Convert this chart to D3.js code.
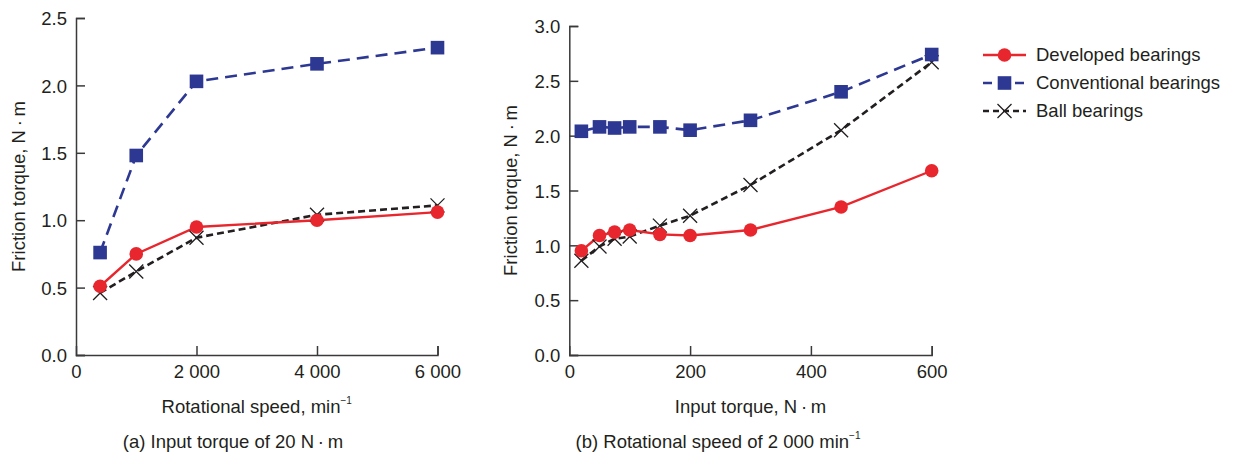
<!DOCTYPE html>
<html><head><meta charset="utf-8">
<script src="https://cdn.jsdelivr.net/npm/d3@7"></script>
<style>
html,body{margin:0;padding:0;background:#fff;}
text{font-family:"Liberation Sans",Arial,Helvetica,sans-serif;fill:#231f20;}
</style></head>
<body><svg id="c" width="1233" height="458"></svg>
<script>
// ---- data ----
const speedA = [400, 1000, 2000, 4000, 6000];
const developedA = [0.51, 0.75, 0.95, 1.00, 1.06];
const conventionalA = [0.76, 1.48, 2.03, 2.16, 2.28];
const ballA = [0.46, 0.62, 0.87, 1.04, 1.11];

const torqueB = [20, 50, 75, 100, 150, 200, 300, 450, 600];
const developedB = [0.95, 1.09, 1.12, 1.14, 1.10, 1.09, 1.14, 1.35, 1.68];
const conventionalB = [2.04, 2.08, 2.07, 2.08, 2.08, 2.05, 2.14, 2.40, 2.74];
const ballB = [0.86, 0.99, 1.06, 1.08, 1.18, 1.27, 1.55, 2.05, 2.67];

const xTicksA = [0, 2000, 4000, 6000];
const xTickLabelsA = ["0", "2 000", "4 000", "6 000"];
const yTicksA = [0, 0.5, 1.0, 1.5, 2.0, 2.5];
const xTicksB = [0, 200, 400, 600];
const yTicksB = [0, 0.5, 1.0, 1.5, 2.0, 2.5, 3.0];
const seriesNames = ["Developed bearings", "Conventional bearings", "Ball bearings"];

// ---- styles ----
const RED = "#e8262d", BLUE = "#2d3892", BLACK = "#231f20", AX = "#3a3a3a";
const FS = 18.5;
const NM = "N\u2009\u00b7\u2009m";
const svg = d3.select("#c");

function marker(g, type, x, y) {
  if (type === 0) g.append("circle").attr("cx", x).attr("cy", y).attr("r", 6.8).attr("fill", RED);
  else if (type === 1) g.append("rect").attr("x", x - 6.8).attr("y", y - 6.8).attr("width", 13.6).attr("height", 13.6).attr("fill", BLUE);
  else {
    const s = 7;
    g.append("path").attr("d", `M${x-s},${y-s}L${x+s},${y+s}M${x-s},${y+s}L${x+s},${y-s}`)
      .attr("stroke", BLACK).attr("stroke-width", 1.3).attr("fill", "none");
  }
}
const lineStyles = [
  {color: RED, dash: null, w: 2.4},
  {color: BLUE, dash: "12,7", w: 2.6},
  {color: BLACK, dash: "7,4", w: 2.6}
];

function panel(opt) {
  const x = d3.scaleLinear().domain(opt.xDomain).range([opt.x0, opt.x1]);
  const y = d3.scaleLinear().domain(opt.yDomain).range([opt.y0, opt.y1]);
  const g = svg.append("g");

  // axes
  const yAxis = d3.axisLeft(y).tickValues(opt.yTicks).tickSize(-9).tickPadding(18).tickFormat(d3.format(".1f"));
  const ga = g.append("g").attr("transform", `translate(${opt.x0},0)`).call(yAxis);
  const xAxis = d3.axisBottom(x).tickValues(opt.xTicks).tickSize(-9).tickPadding(18).tickFormat((d, i) => opt.xLabels[i]);
  const gb = g.append("g").attr("transform", `translate(0,${opt.y0})`).call(xAxis);
  [ga, gb].forEach(a => {
    a.select(".domain").attr("stroke", AX).attr("stroke-width", 1.5);
    a.selectAll(".tick line").attr("stroke", AX).attr("stroke-width", 1.5);
    a.selectAll(".tick text").attr("font-size", FS).attr("fill", "#231f20").attr("font-family", "Liberation Sans, Arial, sans-serif");
  });
  ga.selectAll(".tick text").attr("x", -9).attr("dy", "0.36em");
  gb.selectAll(".tick text").attr("y", 10).attr("dy", "0.71em");
  gb.selectAll(".tick").filter(d => d === 0).select("line").remove();

  // series
  const sets = opt.series;
  const order = [2, 1, 0];
  order.forEach(si => {
    const st = lineStyles[si];
    const pts = opt.xs.map((v, i) => [x(v), y(sets[si][i])]);
    g.append("path").attr("d", d3.line()(pts)).attr("fill", "none")
      .attr("stroke", st.color).attr("stroke-width", st.w)
      .attr("stroke-dasharray", st.dash);
  });
  order.forEach(si => {
    opt.xs.forEach((v, i) => marker(g, si, x(v), y(sets[si][i])));
  });

  // y title
  g.append("text").attr("transform", `translate(${opt.yTitleX},${(opt.y0 + opt.y1) / 2}) rotate(-90)`)
    .attr("text-anchor", "middle").attr("dy", "0.35em").attr("font-size", FS).text("Friction torque, " + NM);
  // x title
  const xt = g.append("text").attr("x", (opt.x0 + opt.x1) / 2).attr("y", 413).attr("text-anchor", "middle").attr("font-size", FS);
  xt.append("tspan").text(opt.xTitle);
  if (opt.xSup) xt.append("tspan").attr("font-size", 10).attr("dy", -9).text(opt.xSup);
  // caption
  const ct = g.append("text").attr("x", opt.capX).attr("y", 448).attr("text-anchor", "middle").attr("font-size", FS);
  ct.append("tspan").text(opt.caption);
  if (opt.capSup) ct.append("tspan").attr("font-size", 10).attr("dy", -9).text(opt.capSup);
}

panel({
  xDomain: [0, 6000], yDomain: [0, 2.5], x0: 76, x1: 437.5, y0: 355, y1: 18,
  xTicks: xTicksA, xLabels: xTickLabelsA, yTicks: yTicksA,
  xs: speedA, series: [developedA, conventionalA, ballA],
  yTitleX: 19, xTitle: "Rotational speed, min", xSup: "\u22121",
  caption: "(a) Input torque of 20 " + NM, capX: 233
});
panel({
  xDomain: [0, 600], yDomain: [0, 3.0], x0: 569.3, x1: 931.7, y0: 355, y1: 26,
  xTicks: xTicksB, xLabels: xTicksB.map(String), yTicks: yTicksB,
  xs: torqueB, series: [developedB, conventionalB, ballB],
  yTitleX: 511, xTitle: "Input torque, " + NM, xSup: null,
  caption: "(b) Rotational speed of 2 000 min", capSup: "\u22121", capX: 718
});

// legend
const lg = svg.append("g");
seriesNames.forEach((name, i) => {
  const yy = 55 + i * 28;
  const st = lineStyles[i];
  lg.append("line").attr("x1", 983).attr("x2", 1026).attr("y1", yy).attr("y2", yy)
    .attr("stroke", st.color).attr("stroke-width", st.w)
    .attr("stroke-dasharray", i === 0 ? null : (i === 1 ? "9,7" : "6,4"));
  marker(lg, i, 1004.5, yy);
  lg.append("text").attr("x", 1036).attr("y", yy).attr("dy", "0.35em").attr("font-size", FS).text(name);
});
</script></body></html>
